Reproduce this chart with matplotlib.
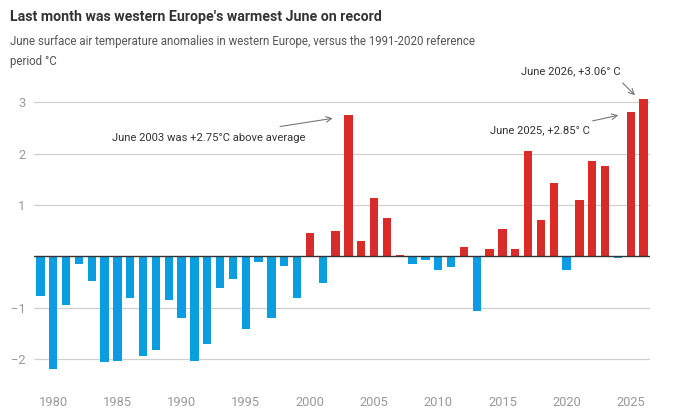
import matplotlib
matplotlib.use("Agg")
import matplotlib.pyplot as plt

years = list(range(1979, 2027))
anomalies = [
    -0.77, -2.19, -0.95, -0.15, -0.48, -2.07, -2.05, -0.81, -1.94, -1.82,
    -0.85, -1.20, -2.05, -1.72, -0.61, -0.44, -1.41, -0.11, -1.20, -0.19,
    -0.81, 0.45, -0.52, 0.49, 2.75, 0.30, 1.14, 0.75, 0.03, -0.16,
    -0.07, -0.26, -0.20, 0.18, -1.07, 0.14, 0.53, 0.14, 2.05, 0.71,
    1.43, -0.27, 1.10, 1.86, 1.76, -0.03, 2.81, 3.06,
]
xtick_years = [1980, 1985, 1990, 1995, 2000, 2005, 2010, 2015, 2020, 2025]
yticks = [-2, -1, 1, 2, 3]
ytick_labels = ["\u22122", "\u22121", "1", "2", "3"]

title = "Last month was western Europe's warmest June on record"
subtitle = ("June surface air temperature anomalies in western Europe, versus the 1991-2020 reference\n"
            "period \u00b0C")

RED = "#d92b27"
BLUE = "#0a9ee0"

plt.rcParams["font.family"] = ["Roboto", "DejaVu Sans"]

fig = plt.figure(figsize=(6.82, 4.20), dpi=100)
ax = fig.add_axes([34 / 682, 1 - 384.5 / 420, 616 / 682, (384.5 - 97.3) / 420])

colors = [RED if v > 0 else BLUE for v in anomalies]
ax.bar(years, anomalies, width=0.66, color=colors, zorder=3)

ax.set_xlim(1978.5, 2026.5)
ax.set_ylim(-2.5, 3.1)
ax.set_yticks(yticks)
ax.set_yticklabels(ytick_labels)
ax.set_xticks(xtick_years)
ax.set_xticklabels([str(y) for y in xtick_years])
ax.grid(axis="y", color="#d0d0d0", linewidth=0.9, zorder=0)
ax.axhline(0, color="#333333", linewidth=1.0, zorder=4)
for s in ax.spines.values():
    s.set_visible(False)
ax.tick_params(axis="both", length=0, colors="#999999", labelsize=9.3)
ax.tick_params(axis="x", pad=8)
ax.tick_params(axis="y", pad=6)

fig.text(10 / 682, 1 - 17 / 420, title, fontsize=10.2, fontweight="bold",
         color="#333333", va="center", ha="left")
fig.text(10 / 682, 1 - 42 / 420, subtitle.split("\n")[0], fontsize=8.3,
         color="#555555", va="center", ha="left")
fig.text(10 / 682, 1 - 62 / 420, subtitle.split("\n")[1], fontsize=8.3,
         color="#555555", va="center", ha="left")

akw = dict(arrowstyle="->", color="#777777", lw=0.8, shrinkA=0, shrinkB=0)
ax.annotate("", xy=(2001.78, 2.69), xytext=(1997.67, 2.53),
            arrowprops=akw, annotation_clip=False)
ax.text(1984.55, 2.31, "June 2003 was +2.75\u00b0C above average", fontsize=8.1,
        color="#333333", ha="left", va="center")
ax.annotate("", xy=(2024.03, 2.75), xytext=(2022.03, 2.64),
            arrowprops=akw, annotation_clip=False)
ax.text(2021.85, 2.45, "June 2025, +2.85\u00b0 C", fontsize=8.1, color="#333333",
        ha="right", va="center")
ax.annotate("", xy=(2025.33, 3.14), xytext=(2024.37, 3.38),
            arrowprops=akw, annotation_clip=False)
ax.text(2024.2, 3.61, "June 2026, +3.06\u00b0 C", fontsize=8.1, color="#333333",
        ha="right", va="center")

fig.savefig("out.png", dpi=100, facecolor="white")
